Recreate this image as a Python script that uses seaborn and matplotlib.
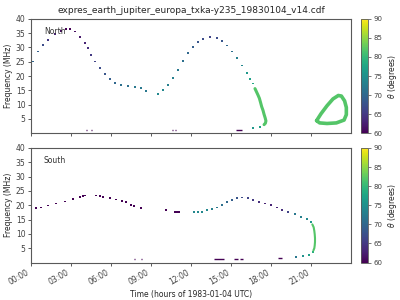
import numpy as np
import pandas as pd
import seaborn as sns
import matplotlib.pyplot as plt
from matplotlib.colors import Normalize
from matplotlib.cm import ScalarMappable

# ---- North hemisphere ----
north_hour = [0.15, 0.53, 0.9, 1.28, 1.78, 2.28, 2.65, 2.9, 3.28, 3.65, 4.03, 4.28, 4.53,
              4.78, 5.15, 5.53, 5.9, 6.28, 6.78, 7.28, 7.78, 8.28, 8.65,
              9.55, 9.93, 10.3, 10.68, 11.05, 11.43, 11.8, 12.18, 12.55, 12.93, 13.43,
              13.93, 14.3, 14.68, 15.05, 15.43, 15.8, 16.18, 16.45, 16.62, 17.18, 16.68]
north_freq = [25.1, 28.6, 30.9, 32.7, 34.6, 35.8, 36.4, 36.4, 35.6, 33.8, 31.5, 29.7, 27.4,
              25.1, 22.7, 20.6, 18.9, 17.7, 16.9, 16.6, 16.2, 15.7, 14.8,
              13.6, 15.2, 16.9, 19.2, 22.2, 25.3, 28.0, 30.1, 31.8, 33.0, 33.6,
              33.2, 32.3, 30.7, 28.6, 26.2, 23.7, 21.0, 19.0, 17.4, 2.3, 1.7]
north_theta = [70, 69, 67, 65, 63, 61, 60, 60, 61, 62, 63, 64, 65,
               66, 67, 68, 69, 70, 71, 71, 72, 72, 72,
               74, 74, 73, 73, 72, 71, 70, 69, 68, 67, 66,
               67, 68, 70, 71, 73, 74, 76, 77, 78, 77, 76]

north_band_hour = [16.8, 16.92, 17.02, 17.13, 17.22, 17.3, 17.4, 17.48, 17.56, 17.62, 17.58, 17.48]
north_band_freq = [15.6, 14.4, 13.4, 12.2, 10.7, 9.3, 8.0, 6.6, 5.4, 4.3, 3.5, 3.0]
north_band_theta = 82

north_loop_hour = [21.42, 21.75, 22.2, 22.65, 23.05, 23.28, 23.52, 23.65, 23.65, 23.48, 22.9, 22.2, 21.65, 21.42]
north_loop_freq = [4.4, 6.8, 9.6, 12.0, 13.2, 13.0, 11.3, 9.0, 6.5, 4.6, 3.6, 3.4, 3.6, 4.4]
north_loop_theta = 82

north_dash_start = [4.12, 4.5, 10.57, 10.78, 15.35]
north_dash_end = [4.18, 4.56, 10.63, 10.84, 15.85]
north_dash_freq = [1.1, 1.1, 1.1, 1.1, 1.2]
north_dash_theta = [60, 60, 60, 60, 60]

# ---- South hemisphere ----
south_hour = [0.4, 0.78, 1.28, 1.9, 2.53, 3.15, 3.65, 3.9, 4.08, 4.9, 5.15, 5.4, 5.9, 6.4, 6.83,
              7.15, 7.53, 7.73, 8.23, 10.15, 10.8, 10.95, 11.08,
              12.25, 12.5, 12.8, 13.18, 13.55, 13.93, 14.3, 14.68, 15.05, 15.43, 15.85, 16.25,
              16.68, 17.1, 17.55, 18.0, 18.43, 18.85, 19.25, 19.8, 20.25, 20.68, 21.0,
              21.13, 20.85, 20.43, 19.88]
south_freq = [18.9, 19.2, 19.9, 20.6, 21.3, 22.1, 22.9, 23.3, 23.4, 23.4, 23.1, 22.8, 22.4, 22.0, 21.5,
              21.1, 20.1, 19.8, 18.9, 18.2, 17.7, 17.7, 17.7,
              17.7, 17.7, 17.7, 18.2, 18.65, 19.2, 20.0, 21.0, 21.8, 22.4, 22.7, 22.4,
              21.8, 21.2, 20.6, 20.0, 19.2, 18.3, 17.5, 16.8, 16.0, 15.2, 14.0,
              3.8, 2.6, 2.2, 1.8]
south_theta = [60, 60, 60, 60, 60, 60, 60, 60, 60, 60, 60, 60, 60, 60, 60,
               60, 60, 60, 60, 60, 60, 60, 60,
               74, 74, 74, 74, 73, 72, 71, 70, 69, 68, 67, 66,
               65, 64, 63, 63, 63, 64, 66, 72, 73, 74, 76,
               79, 77, 75, 72]

south_band_hour = [21.1, 21.2, 21.25, 21.28, 21.3, 21.3, 21.28, 21.25, 21.18]
south_band_freq = [13.3, 12.3, 11.0, 9.8, 8.5, 7.2, 6.0, 5.0, 4.2]
south_band_theta = 82

south_dash_start = [7.71, 8.25, 13.75, 15.25, 15.68, 18.55]
south_dash_end = [7.77, 8.31, 14.5, 15.55, 15.9, 18.85]
south_dash_freq = [1.1, 1.1, 1.15, 1.15, 1.15, 1.5]
south_dash_theta = [60, 60, 60, 60, 60, 60]

hour_ticks = [0, 3, 6, 9, 12, 15, 18, 21]
hour_labels = ['00:00', '03:00', '06:00', '09:00', '12:00', '15:00', '18:00', '21:00']
freq_ticks = [5, 10, 15, 20, 25, 30, 35, 40]
theta_ticks = [60, 65, 70, 75, 80, 85, 90]

sns.set_style('ticks')
plt.rcParams['font.family'] = ['DejaVu Sans']
cmap = plt.get_cmap('viridis')
norm = Normalize(60, 90)

fig = plt.figure(figsize=(4, 3), dpi=100)
ax_n = fig.add_axes([0.0775, 0.556, 0.80, 0.381])
ax_s = fig.add_axes([0.0775, 0.125, 0.80, 0.382])
cax_n = fig.add_axes([0.9025, 0.556, 0.018, 0.381])
cax_s = fig.add_axes([0.9025, 0.125, 0.018, 0.382])


def draw_panel(ax, cax, hour, freq, theta, bands, dashes, label):
    df = pd.DataFrame({'hour': hour, 'freq': freq, 'theta': theta})
    sns.scatterplot(data=df, x='hour', y='freq', hue='theta', palette='viridis',
                    hue_norm=norm, marker='s', s=1.7, linewidth=0, legend=False, ax=ax)
    for bh, bf, bt, lw in bands:
        bd = pd.DataFrame({'hour': bh, 'freq': bf})
        sns.lineplot(data=bd, x='hour', y='freq', sort=False, estimator=None,
                     color=cmap(norm(bt)), lw=lw, ax=ax)
    ds, de, dfq, dt = dashes
    ax.hlines(dfq, ds, de, colors=[cmap(norm(t)) for t in dt], lw=1.0)

    ax.set_xlim(0, 24)
    ax.set_ylim(0, 40)
    ax.set_yticks(freq_ticks)
    ax.set_xticks(hour_ticks)
    ax.set_ylabel('Frequency (MHz)', fontsize=5.5, labelpad=2)
    ax.tick_params(labelsize=5.5, length=2.5, width=0.6, pad=1.5, colors='0.25')
    for sp in ax.spines.values():
        sp.set_color('0.35')
        sp.set_linewidth(0.8)
    ax.text(0.04, 0.93, label, transform=ax.transAxes, fontsize=5.5,
            va='top', ha='left', color='0.2')

    cb = fig.colorbar(ScalarMappable(norm=norm, cmap=cmap), cax=cax)
    cb.set_ticks(theta_ticks)
    cb.ax.tick_params(labelsize=5, length=2, width=0.5, pad=1.5, colors='0.25')
    cb.set_label(r'$\theta$ (degrees)', fontsize=5.5, labelpad=3)
    cb.outline.set_edgecolor('0.35')
    cb.outline.set_linewidth(0.6)


draw_panel(ax_n, cax_n, north_hour, north_freq, north_theta,
           [(north_band_hour, north_band_freq, north_band_theta, 2.2),
            (north_loop_hour, north_loop_freq, north_loop_theta, 2.6)],
           (north_dash_start, north_dash_end, north_dash_freq, north_dash_theta), 'North')
draw_panel(ax_s, cax_s, south_hour, south_freq, south_theta,
           [(south_band_hour, south_band_freq, south_band_theta, 1.5)],
           (south_dash_start, south_dash_end, south_dash_freq, south_dash_theta), 'South')

ax_n.set_xlabel('')
ax_n.set_xticklabels([])
ax_s.set_xticklabels(hour_labels, rotation=30, ha='right')
ax_s.set_xlabel('Time (hours of 1983-01-04 UTC)', fontsize=5.5, labelpad=2)
ax_n.set_title('expres_earth_jupiter_europa_txka-y235_19830104_v14.cdf', fontsize=6.5, pad=4)

fig.savefig('out.png', dpi=100)
